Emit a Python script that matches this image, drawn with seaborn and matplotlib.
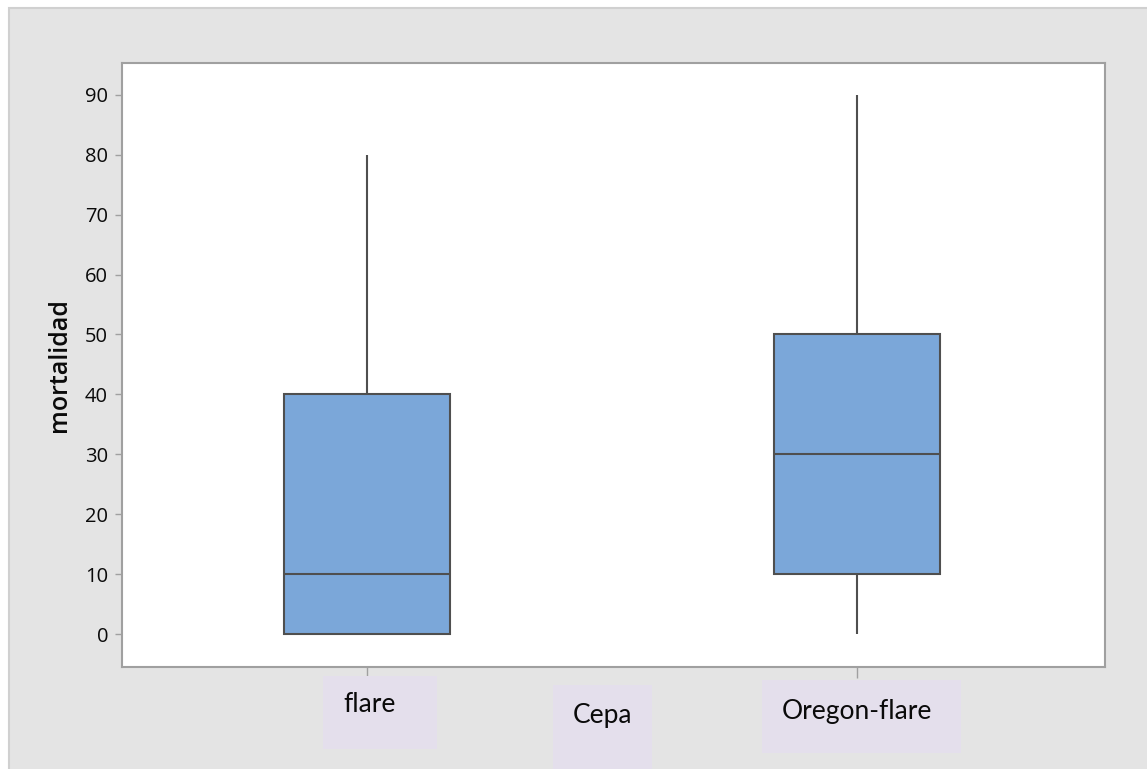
import matplotlib
matplotlib.use("Agg")
import matplotlib.pyplot as plt
import seaborn as sns
import pandas as pd
from matplotlib.patches import Rectangle

# Mortality observations per strain
cepas = ["flare", "Oregon-flare"]
mortalidad_flare = [0, 0, 10, 40, 80]
mortalidad_oregon = [0, 10, 30, 50, 90]
y_ticks = [0, 10, 20, 30, 40, 50, 60, 70, 80, 90]

df = pd.DataFrame({
    "cepa": [cepas[0]] * len(mortalidad_flare) + [cepas[1]] * len(mortalidad_oregon),
    "mortalidad": mortalidad_flare + mortalidad_oregon,
})

sns.set_theme(style="white")
plt.rcParams["font.family"] = ["Open Sans", "DejaVu Sans"]

W, H = 1147, 769
fig = plt.figure(figsize=(W / 100, H / 100), dpi=100)
fig.patch.set_facecolor("white")


def px_rect(x0, y0, x1, y1, **kw):
    """Rectangle in figure pixels (y measured from the top)."""
    return Rectangle((x0 / W, 1 - y1 / H), (x1 - x0) / W, (y1 - y0) / H,
                     transform=fig.transFigure, **kw)


# grey chart panel
fig.patches.append(px_rect(9, 8, W + 5, H + 5, facecolor="#E4E4E4",
                           edgecolor="#D0D0D0", lw=1.5, zorder=-10))

ax = fig.add_axes([122 / W, 1 - 667 / H, (1105 - 122) / W, (667 - 63) / H])
ax.set_facecolor("white")

sns.boxplot(data=df, x="cepa", y="mortalidad", order=cepas, color="#7BA7D9",
            saturation=1, width=0.337, linewidth=1.5, linecolor="#4F4F4F",
            showcaps=False, showfliers=False, ax=ax)

ax.set_xlim(-0.5, 1.506)
ax.set_ylim(-5.5, 95.3)
ax.set_yticks(y_ticks)
ax.set_yticklabels([str(v) for v in y_ticks])
ax.set_xticks(range(len(cepas)))
ax.set_xticklabels([])

for sp in ax.spines.values():
    sp.set_color("#A0A0A0")
    sp.set_linewidth(1.5)
    sp.set_visible(True)

ax.tick_params(axis="y", length=5, width=1, color="#A0A0A0", labelsize=14.5,
               pad=5, labelcolor="#0A0A0A", left=True)
ax.tick_params(axis="x", length=8, width=1, color="#A0A0A0", bottom=True)

ax.set_xlabel("")
ax.set_ylabel("mortalidad", fontsize=18, fontweight="semibold", color="#0A0A0A",
              labelpad=9)

# category text boxes under the axis
lav = "#E4DFEC"
boxes = [
    (323, 676, 437, 749, "flare", 343, 705),
    (553, 685, 652, 775, "Cepa", 573, 716),
    (762, 680, 961, 753, "Oregon-flare", 782, 711),
]
for x0, y0, x1, y1, txt, tx, ty in boxes:
    fig.patches.append(px_rect(x0, y0, x1, y1, facecolor=lav, edgecolor="none",
                               zorder=5))
    fig.text(tx / W, 1 - ty / H, txt, ha="left", va="center", fontsize=19,
             family=["Lato", "DejaVu Sans"], color="#0A0A0A", zorder=6)

fig.savefig("out.png", dpi=100)
